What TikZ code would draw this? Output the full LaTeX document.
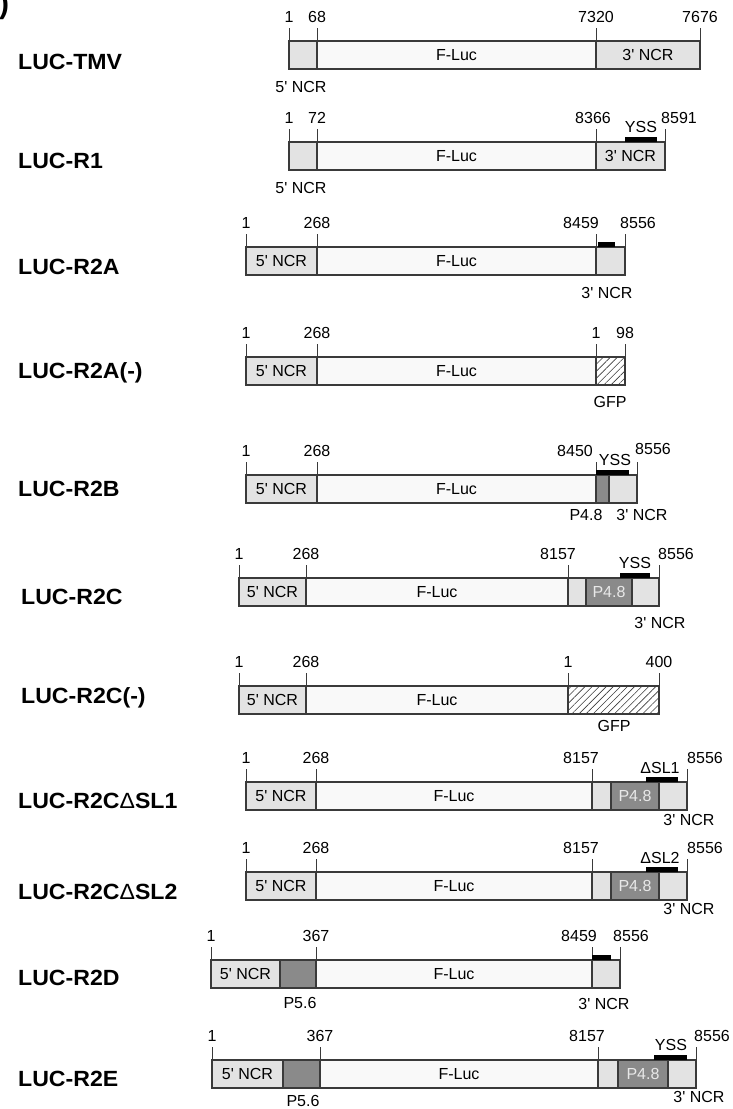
\documentclass[tikz,border=0pt]{standalone}
\usepackage{fontspec}
\setmainfont{Liberation Sans}
\newfontfamily\labfont{Liberation Sans}[FakeStretch=1.05]
\usetikzlibrary{positioning,patterns.meta}
\definecolor{ncrfill}{HTML}{E3E3E3}
\definecolor{lucfill}{HTML}{F9F9F9}
\definecolor{pfill}{HTML}{8A8A8A}
\definecolor{edge}{HTML}{3A3A3A}
\definecolor{ptext}{HTML}{E8E8E8}
\tikzset{
  seg/.style={draw=edge, line width=1.2pt, inner sep=0pt, outer sep=0pt,
    minimum height=28pt, anchor=north west, font=\fontsize{16}{18}\selectfont},
  ncr/.style={seg, fill=ncrfill},
  luc/.style={seg, fill=lucfill},
  prot/.style={seg, fill=pfill, text=ptext},
  gfp/.style={seg, pattern={Lines[angle=45, distance=5pt, line width=0.6pt]}, pattern color=edge},
  tickline/.style={draw=edge, line width=0.9pt},
  num/.style={anchor=south, inner sep=0pt, yshift=5pt, font=\fontsize{16}{18}\selectfont},
  sublab/.style={inner sep=0pt, font=\fontsize{16}{18}\selectfont},
  ssbar/.style={fill=black},
  construct/.style={anchor=west, inner sep=0pt, font=\labfont\fontsize{22}{26}\selectfont\bfseries},
}

\begin{document}
\begin{tikzpicture}[x=1pt, y=-1pt]
\useasboundingbox (0,0) rectangle (732,1109);

\node[construct, font=\fontsize{30}{30}\selectfont\bfseries] (paren) at (-1,6) {)};

\node[construct] (tmv) at (18,62) {LUC-TMV};
\node[ncr, minimum width=28pt] (tmv5) at (289,41) {};
\node[luc, minimum width=279pt, right=0pt of tmv5] (tmvluc) {F-Luc};
\node[ncr, minimum width=104pt, right=0pt of tmvluc] (tmv3) {3\textquotesingle\ NCR};
\draw[tickline] (tmv5.north west) -- ++(0,-13) node[num] (tmv1) {1}
  (tmv5.north east) -- ++(0,-13) node[num] (tmv68) {68}
  (tmv3.north west) -- ++(0,-13) node[num] (tmv7320) {7320}
  (tmv3.north east) -- ++(0,-13) node[num] (tmv7676) {7676};
\node[sublab] (tmv5lab) at (301,87) {5\textquotesingle\ NCR};

\node[construct] (r1) at (18,161) {LUC-R1};
\node[ncr, minimum width=28pt] (r15) at (289,142) {};
\node[luc, minimum width=279pt, right=0pt of r15] (r1luc) {F-Luc};
\node[ncr, minimum width=69pt, right=0pt of r1luc] (r13) {3\textquotesingle\ NCR};
\draw[tickline] (r15.north west) -- ++(0,-13) node[num] (r1n1) {1}
  (r15.north east) -- ++(0,-13) node[num] (r1n72) {72}
  (r13.north west) -- ++(0,-13) node[num, xshift=-3pt] (r1n8366) {8366}
  (r13.north east) -- ++(0,-13) node[num, xshift=14pt] (r1n8591) {8591};
\fill[ssbar] (625,137) rectangle (657,142);
\node[sublab, anchor=south] (r1yss) at (641,133) {YSS};
\node[sublab] (r15lab) at (301,188) {5\textquotesingle\ NCR};

\node[construct] (r2a) at (18,267) {LUC-R2A};
\node[ncr, minimum width=71pt] (r2a5) at (246,247) {5\textquotesingle\ NCR};
\node[luc, minimum width=279pt, right=0pt of r2a5] (r2aluc) {F-Luc};
\node[ncr, minimum width=29pt, right=0pt of r2aluc] (r2a3) {};
\draw[tickline] (r2a5.north west) -- ++(0,-13) node[num] (r2an1) {1}
  (r2a5.north east) -- ++(0,-13) node[num] (r2an268) {268}
  (r2a3.north west) -- ++(0,-13) node[num, xshift=-15pt] (r2an8459) {8459}
  (r2a3.north east) -- ++(0,-13) node[num, xshift=13pt] (r2an8556) {8556};
\fill[ssbar] (598,242) rectangle (615,247);
\node[sublab] (r2a3lab) at (607,293) {3\textquotesingle\ NCR};

\node[construct] (r2am) at (18,373) {LUC-R2A(-)};
\node[ncr, minimum width=71pt] (r2am5) at (246,357) {5\textquotesingle\ NCR};
\node[luc, minimum width=279pt, right=0pt of r2am5] (r2amluc) {F-Luc};
\node[gfp, minimum width=29pt, right=0pt of r2amluc] (r2amg) {};
\draw[tickline] (r2am5.north west) -- ++(0,-13) node[num] (r2amn1) {1}
  (r2am5.north east) -- ++(0,-13) node[num] (r2amn268) {268}
  (r2amg.north west) -- ++(0,-13) node[num] (r2amg1) {1}
  (r2amg.north east) -- ++(0,-13) node[num] (r2amg98) {98};
\node[sublab] (r2amlab) at (610,402) {GFP};

\node[construct] (r2b) at (18,489) {LUC-R2B};
\node[ncr, minimum width=71pt] (r2b5) at (246,475) {5\textquotesingle\ NCR};
\node[luc, minimum width=279pt, right=0pt of r2b5] (r2bluc) {F-Luc};
\node[prot, minimum width=13pt, right=0pt of r2bluc] (r2bp) {};
\node[ncr, minimum width=28pt, right=0pt of r2bp] (r2b3) {};
\draw[tickline] (r2b5.north west) -- ++(0,-13) node[num] (r2bn1) {1}
  (r2b5.north east) -- ++(0,-13) node[num] (r2bn268) {268}
  (r2bp.north west) -- ++(0,-13) node[num, xshift=-21pt] (r2bn8450) {8450}
  (r2b3.north east) -- ++(0,-13) node[num, xshift=16pt, yshift=2pt] (r2bn8556) {8556};
\fill[ssbar] (596,470) rectangle (629,475);
\node[sublab, anchor=south] (r2byss) at (615,466) {YSS};
\node[sublab] (r2bplab) at (586,515) {P4.8};
\node[sublab] (r2b3lab) at (642,515) {3\textquotesingle\ NCR};

\node[construct] (r2c) at (21,597) {LUC-R2C};
\node[ncr, minimum width=67pt] (r2c5) at (239,578) {5\textquotesingle\ NCR};
\node[luc, minimum width=262pt, right=0pt of r2c5] (r2cluc) {F-Luc};
\node[ncr, minimum width=18pt, right=0pt of r2cluc] (r2cx) {};
\node[prot, minimum width=46pt, right=0pt of r2cx] (r2cp) {P4.8};
\node[ncr, minimum width=27pt, right=0pt of r2cp] (r2c3) {};
\draw[tickline] (r2c5.north west) -- ++(0,-13) node[num] (r2cn1) {1}
  (r2c5.north east) -- ++(0,-13) node[num] (r2cn268) {268}
  (r2cx.north west) -- ++(0,-13) node[num, xshift=-10pt] (r2cn8157) {8157}
  (r2c3.north east) -- ++(0,-13) node[num, xshift=17pt] (r2cn8556) {8556};
\fill[ssbar] (620,573) rectangle (650,578);
\node[sublab, anchor=south] (r2cyss) at (635,569) {YSS};
\node[sublab] (r2c3lab) at (660,623) {3\textquotesingle\ NCR};

\node[construct] (r2cm) at (21,698) {LUC-R2C(-)};
\node[ncr, minimum width=67pt] (r2cm5) at (239,686) {5\textquotesingle\ NCR};
\node[luc, minimum width=262pt, right=0pt of r2cm5] (r2cmluc) {F-Luc};
\node[gfp, minimum width=91pt, right=0pt of r2cmluc] (r2cmg) {};
\draw[tickline] (r2cm5.north west) -- ++(0,-13) node[num] (r2cmn1) {1}
  (r2cm5.north east) -- ++(0,-13) node[num] (r2cmn268) {268}
  (r2cmg.north west) -- ++(0,-13) node[num] (r2cmg1) {1}
  (r2cmg.north east) -- ++(0,-13) node[num] (r2cmg400) {400};
\node[sublab] (r2cmlab) at (614,726) {GFP};

\node[construct] (sla) at (18,801) {LUC-R2C{\mdseries Δ}SL1};
\node[ncr, minimum width=70pt] (sla5) at (246,782) {5\textquotesingle\ NCR};
\node[luc, minimum width=276pt, right=0pt of sla5] (slaluc) {F-Luc};
\node[ncr, minimum width=19pt, right=0pt of slaluc] (slax) {};
\node[prot, minimum width=48pt, right=0pt of slax] (slap) {P4.8};
\node[ncr, minimum width=28pt, right=0pt of slap] (sla3) {};
\draw[tickline] (sla5.north west) -- ++(0,-13) node[num] (slan1) {1}
  (sla5.north east) -- ++(0,-13) node[num] (slan268) {268}
  (slax.north west) -- ++(0,-13) node[num, xshift=-11pt] (slan8157) {8157}
  (sla3.north east) -- ++(0,-13) node[num, xshift=18pt] (slan8556) {8556};
\fill[ssbar] (646,777) rectangle (678,782);
\node[sublab, anchor=south] (sladel) at (660,774) {ΔSL1};
\node[sublab] (sla3lab) at (689,820) {3\textquotesingle\ NCR};

\node[construct] (slb) at (18,892) {LUC-R2C{\mdseries Δ}SL2};
\node[ncr, minimum width=70pt] (slb5) at (246,872) {5\textquotesingle\ NCR};
\node[luc, minimum width=276pt, right=0pt of slb5] (slbluc) {F-Luc};
\node[ncr, minimum width=19pt, right=0pt of slbluc] (slbx) {};
\node[prot, minimum width=48pt, right=0pt of slbx] (slbp) {P4.8};
\node[ncr, minimum width=28pt, right=0pt of slbp] (slb3) {};
\draw[tickline] (slb5.north west) -- ++(0,-13) node[num] (slbn1) {1}
  (slb5.north east) -- ++(0,-13) node[num] (slbn268) {268}
  (slbx.north west) -- ++(0,-13) node[num, xshift=-11pt] (slbn8157) {8157}
  (slb3.north east) -- ++(0,-13) node[num, xshift=18pt] (slbn8556) {8556};
\fill[ssbar] (646,867) rectangle (678,872);
\node[sublab, anchor=south] (slbdel) at (660,864) {ΔSL2};
\node[sublab] (slb3lab) at (689,909) {3\textquotesingle\ NCR};

\node[construct] (r2d) at (18,978) {LUC-R2D};
\node[ncr, minimum width=69pt] (r2d5) at (211,960) {5\textquotesingle\ NCR};
\node[prot, minimum width=36pt, right=0pt of r2d5] (r2dp) {};
\node[luc, minimum width=276pt, right=0pt of r2dp] (r2dluc) {F-Luc};
\node[ncr, minimum width=28pt, right=0pt of r2dluc] (r2d3) {};
\draw[tickline] (r2d5.north west) -- ++(0,-13) node[num] (r2dn1) {1}
  (r2dp.north east) -- ++(0,-13) node[num] (r2dn367) {367}
  (r2d3.north west) -- ++(0,-13) node[num, xshift=-13pt] (r2dn8459) {8459}
  (r2d3.north east) -- ++(0,-13) node[num, xshift=11pt] (r2dn8556) {8556};
\fill[ssbar] (592,955) rectangle (611,960);
\node[sublab] (r2dplab) at (300,1003) {P5.6};
\node[sublab] (r2d3lab) at (604,1004) {3\textquotesingle\ NCR};

\node[construct] (r2e) at (18,1079) {LUC-R2E};
\node[ncr, minimum width=71pt] (r2e5) at (212,1060) {5\textquotesingle\ NCR};
\node[prot, minimum width=37pt, right=0pt of r2e5] (r2ep) {};
\node[luc, minimum width=278pt, right=0pt of r2ep] (r2eluc) {F-Luc};
\node[ncr, minimum width=20pt, right=0pt of r2eluc] (r2ex) {};
\node[prot, minimum width=50pt, right=0pt of r2ex] (r2eq) {P4.8};
\node[ncr, minimum width=28pt, right=0pt of r2eq] (r2e3) {};
\draw[tickline] (r2e5.north west) -- ++(0,-13) node[num] (r2en1) {1}
  (r2ep.north east) -- ++(0,-13) node[num] (r2en367) {367}
  (r2ex.north west) -- ++(0,-13) node[num, xshift=-11pt] (r2en8157) {8157}
  (r2e3.north east) -- ++(0,-13) node[num, xshift=16pt] (r2en8556) {8556};
\fill[ssbar] (654,1055) rectangle (687,1060);
\node[sublab, anchor=south] (r2eyss) at (671,1051) {YSS};
\node[sublab] (r2eplab) at (303,1101) {P5.6};
\node[sublab] (r2e3lab) at (699,1097) {3\textquotesingle\ NCR};

\end{tikzpicture}
\end{document}
